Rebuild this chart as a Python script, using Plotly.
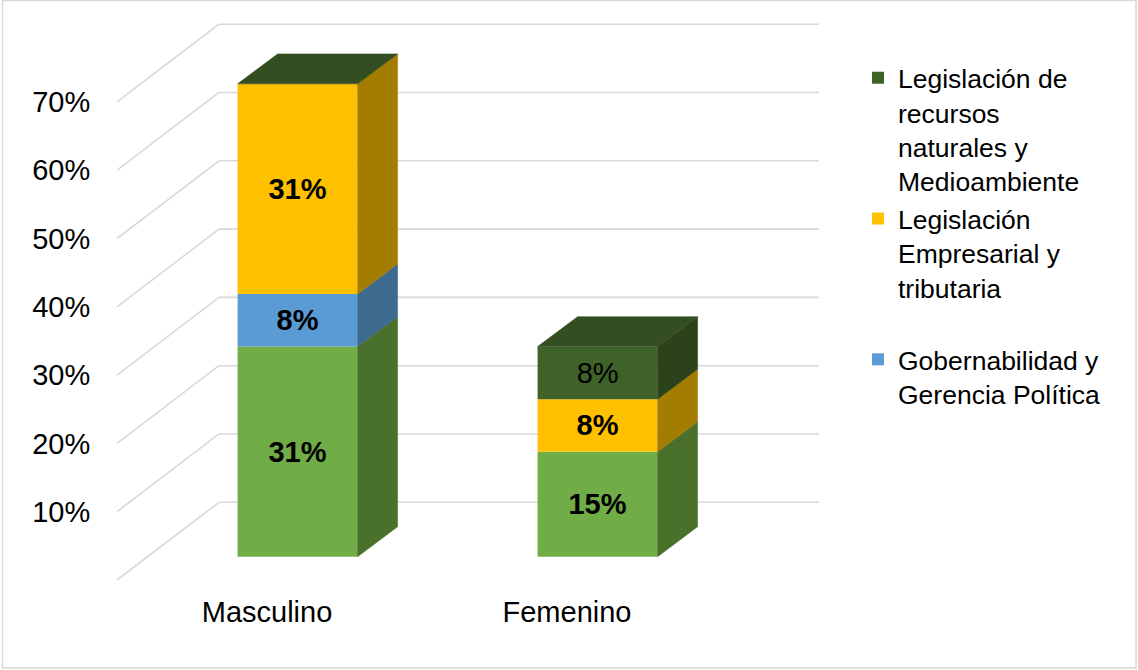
import plotly.graph_objects as go

# ---------------- data ----------------
categories = ["Masculino", "Femenino"]
cat_pos = [0, 1]

# stacked series, bottom -> top
otros = [30.77, 15.38]            # light green (not shown in legend)
gobernabilidad = [7.69, 0.0]      # blue
empresarial = [30.77, 7.69]       # yellow
recursos = [0.0, 7.69]            # dark green

series_names = [
    "Otros",
    "Gobernabilidad y<br>Gerencia Política",
    "Legislación<br>Empresarial y<br>tributaria<br> ",
    "Legislación de<br>recursos<br>naturales y<br>Medioambiente",
]
series_values = [otros, gobernabilidad, empresarial, recursos]
series_in_legend = [False, True, True, True]
label_bold = [[True, True], [True, True], [True, True], [True, False]]

grid_values = [0, 10, 20, 30, 40, 50, 60, 70]
tick_values = [10, 20, 30, 40, 50, 60, 70]
tick_labels = ["10%", "20%", "30%", "40%", "50%", "60%", "70%"]

# ---------------- styling / 3D geometry ----------------
front_colors = ["#70AD47", "#5B9BD5", "#FFC000", "#3F6229"]
side_colors = ["#4A712B", "#3D6A8F", "#A37C00", "#2B421B"]
top_color = "#344E22"

FONT = "Liberation Sans, Arial, sans-serif"
FS = 29

BAR_W = 0.4
WALL_DX, WALL_DY = 0.34, 11.38     # depth of the wall (x units, % units)
OFF_DX, OFF_DY = 0.102, 3.41       # bar front plane relative to front wall
BAR_DX, BAR_DY = 0.1333, 4.39      # depth of the bars
WALL_X0, WALL_X1 = -0.5, 1.5

W, H = 1138, 670
ML, MR, MT, MB = 100, 268, 0, 88
XR = [-0.5567, 2.01]
YR = [-0.293, 84.92]

fig = go.Figure()

# front faces: real bars
bases = [0.0 for _ in categories]
for k, vals in enumerate(series_values):
    texts = []
    for j, v in enumerate(vals):
        if v <= 0:
            texts.append("")
        else:
            t = f"{round(v)}%"
            texts.append(f"<b>{t}</b>" if label_bold[k][j] else t)
    fig.add_trace(go.Bar(
        x=[p + OFF_DX for p in cat_pos],
        y=vals,
        base=[b + OFF_DY for b in bases],
        width=BAR_W,
        name=series_names[k],
        showlegend=series_in_legend[k],
        marker=dict(color=front_colors[k], line=dict(width=0)),
        text=texts,
        textposition="inside",
        insidetextanchor="middle",
        textangle=0,
        constraintext="none",
        textfont=dict(family=FONT, size=FS, color="#000000"),
        hoverinfo="skip",
    ))
    # side faces
    xs, ys = [], []
    for j, p in enumerate(cat_pos):
        v = vals[j]
        if v <= 0:
            continue
        xr = p + OFF_DX + BAR_W / 2
        b = bases[j] + OFF_DY
        t = b + v
        xs += [xr, xr + BAR_DX, xr + BAR_DX, xr, xr, None]
        ys += [b, b + BAR_DY, t + BAR_DY, t, b, None]
    if xs:
        fig.add_trace(go.Scatter(
            x=xs, y=ys, mode="lines", fill="toself",
            fillcolor=side_colors[k], line=dict(width=0.5, color=side_colors[k]),
            showlegend=False, hoverinfo="skip",
        ))
    bases = [bases[j] + vals[j] for j in range(len(categories))]

# top faces (top of each stack)
xs, ys = [], []
for j, p in enumerate(cat_pos):
    xl = p + OFF_DX - BAR_W / 2
    xr = p + OFF_DX + BAR_W / 2
    t = bases[j] + OFF_DY
    xs += [xl, xl + BAR_DX, xr + BAR_DX, xr, xl, None]
    ys += [t, t + BAR_DY, t + BAR_DY, t, t, None]
fig.add_trace(go.Scatter(
    x=xs, y=ys, mode="lines", fill="toself",
    fillcolor=top_color, line=dict(width=0.5, color=top_color),
    showlegend=False, hoverinfo="skip",
))

# wall gridlines (behind the bars)
shapes = []
for g in grid_values:
    shapes.append(dict(type="line", xref="x", yref="y", layer="below",
                       x0=WALL_X0, y0=g, x1=WALL_X0 + WALL_DX, y1=g + WALL_DY,
                       line=dict(color="#D9D9D9", width=1.6)))
    shapes.append(dict(type="line", xref="x", yref="y", layer="below",
                       x0=WALL_X0 + WALL_DX, y0=g + WALL_DY,
                       x1=WALL_X1 + WALL_DX, y1=g + WALL_DY,
                       line=dict(color="#D9D9D9", width=1.6)))
# outer chart border
pw, ph = W - ML - MR, H - MT - MB
shapes.append(dict(type="rect", xref="paper", yref="paper", layer="above",
                   x0=(2.5 - ML) / pw, x1=(W - 2 - ML) / pw,
                   y0=(ph - (H - 2)) / ph, y1=(ph - 0.5) / ph,
                   line=dict(color="#D9D9D9", width=1.5), fillcolor="rgba(0,0,0,0)"))

fig.update_layout(
    width=W, height=H,
    margin=dict(l=ML, r=MR, t=MT, b=MB, autoexpand=False),
    paper_bgcolor="white", plot_bgcolor="white",
    barmode="overlay",
    shapes=shapes,
    font=dict(family=FONT, size=FS, color="#000000"),
    xaxis=dict(range=XR, tickvals=cat_pos, ticktext=categories,
               showgrid=False, zeroline=False, showline=False,
               ticks="outside", ticklen=4, tickcolor="rgba(0,0,0,0)",
               tickfont=dict(family=FONT, size=FS, color="#000000"),
               fixedrange=True),
    yaxis=dict(range=YR, tickvals=tick_values, ticktext=tick_labels,
               showgrid=False, zeroline=False, showline=False,
               ticks="outside", ticklen=3, tickcolor="rgba(0,0,0,0)",
               tickfont=dict(family=FONT, size=FS, color="#000000"),
               fixedrange=True),
    legend=dict(x=(858 - ML) / pw, y=(ph - 54) / ph, xanchor="left", yanchor="top",
                traceorder="reversed", valign="top",
                font=dict(family=FONT, size=26.5, color="#000000"),
                bgcolor="rgba(0,0,0,0)", tracegroupgap=0, itemclick=False),
    showlegend=True,
)

fig.write_html("out.html", config={"displayModeBar": False},
               post_script="document.body.style.margin='0';")
